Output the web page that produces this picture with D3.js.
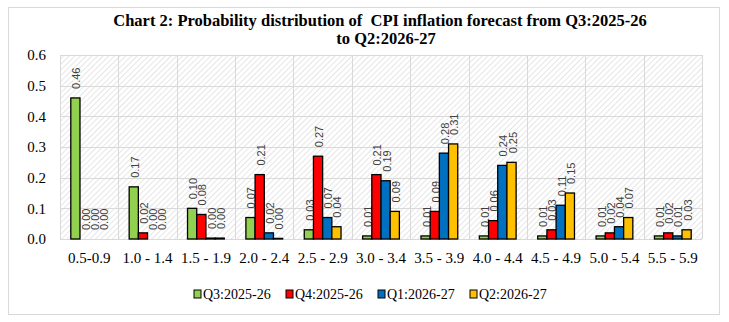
<!DOCTYPE html>
<html lang="en">
<head>
  <meta charset="UTF-8">
  <title>Chart 2</title>
  <script src="https://cdn.jsdelivr.net/npm/d3@7"></script>
  <style>
    body { margin: 0; background: #fff; }
    svg { display: block; }
  </style>
</head>
<body>
<div id="chart"></div>
<script type="text/javascript">
  // categories and series
  var categories = ["0.5-0.9", "1.0 - 1.4", "1.5 - 1.9", "2.0 - 2.4", "2.5 - 2.9", "3.0 - 3.4",
                    "3.5 - 3.9", "4.0 - 4.4", "4.5 - 4.9", "5.0 - 5.4", "5.5 - 5.9"];
  var seriesNames = ["Q3:2025-26", "Q4:2025-26", "Q1:2026-27", "Q2:2026-27"];
  var q3_2025 = [0.46, 0.17, 0.10, 0.07, 0.03, 0.01, 0.01, 0.01, 0.01, 0.01, 0.01];
  var q4_2025 = [0.00, 0.02, 0.08, 0.21, 0.27, 0.21, 0.09, 0.06, 0.03, 0.02, 0.02];
  var q1_2026 = [0.00, 0.00, 0.003, 0.02, 0.07, 0.19, 0.28, 0.24, 0.11, 0.04, 0.01];
  var q2_2026 = [0.00, 0.00, 0.003, 0.002, 0.04, 0.09, 0.31, 0.25, 0.15, 0.07, 0.03];
  var yTicks = [0, 0.1, 0.2, 0.3, 0.4, 0.5, 0.6];
  var colors = ["#92d050", "#ff0000", "#0070c0", "#ffc000"];

  var allSeries = [q3_2025, q4_2025, q1_2026, q2_2026];

  var W = 729, H = 322;
  // plot area (don't call these top/left, window.top is read only)
  var plotL = 60, plotR = 702, plotT = 55, plotB = 239;

  var svg = d3.select("#chart").append("svg")
    .attr("width", W)
    .attr("height", H);

  // hatched plot background
  var defs = svg.append("defs");
  var pat = defs.append("pattern")
    .attr("id", "hatch")
    .attr("patternUnits", "userSpaceOnUse")
    .attr("width", 4)
    .attr("height", 4)
    .attr("patternTransform", "rotate(45)");
  pat.append("rect").attr("width", 4).attr("height", 4).attr("fill", "#ffffff");
  pat.append("line")
    .attr("x1", 0).attr("y1", 0).attr("x2", 0).attr("y2", 4)
    .attr("stroke", "#dcdcdc").attr("stroke-width", 1.4);

  // outer border
  svg.append("rect")
    .attr("x", 8.5).attr("y", 7.5)
    .attr("width", 711).attr("height", 307)
    .attr("fill", "#fff")
    .attr("stroke", "#d9d9d9");

  // title
  var title = svg.append("text")
    .attr("text-anchor", "middle")
    .style("font-family", "'Liberation Serif', serif")
    .style("font-weight", "bold")
    .style("font-size", "16.5px")
    .style("white-space", "pre")
    .attr("fill", "#000");
  title.append("tspan").attr("x", 380).attr("y", 26)
    .text("Chart 2: Probability distribution of  CPI inflation forecast from Q3:2025-26");
  title.append("tspan").attr("x", 386).attr("y", 44).text("to Q2:2026-27");

  var x0 = d3.scaleBand().domain(categories).range([plotL, plotR]);
  var cw = x0.bandwidth();
  var x1 = d3.scaleBand().domain(seriesNames).range([10.8, cw - 10.8]);
  var y = d3.scaleLinear().domain([0, 0.6]).range([plotB, plotT]);

  svg.append("rect")
    .attr("x", plotL).attr("y", plotT)
    .attr("width", plotR - plotL).attr("height", plotB - plotT)
    .attr("fill", "url(#hatch)");

  // gridlines
  var grid = svg.append("g").attr("stroke", "#d9d9d9").attr("stroke-width", 1);
  grid.selectAll(".h").data(yTicks).enter().append("line")
    .attr("x1", plotL).attr("x2", plotR)
    .attr("y1", function(d) { return Math.round(y(d)) + 0.5; })
    .attr("y2", function(d) { return Math.round(y(d)) + 0.5; });
  grid.selectAll(".v").data(categories.concat(["end"])).enter().append("line")
    .attr("y1", plotT).attr("y2", plotB)
    .attr("x1", function(d, i) { return Math.round(plotL + i * cw) + 0.5; })
    .attr("x2", function(d, i) { return Math.round(plotL + i * cw) + 0.5; });

  // y axis labels
  var yAxis = d3.axisLeft(y).tickValues(yTicks).tickFormat(d3.format(".1f")).tickSize(0).tickPadding(14);
  var gy = svg.append("g").attr("transform", "translate(" + plotL + ",0)").call(yAxis);
  gy.select(".domain").remove();
  gy.selectAll("text")
    .style("font-family", "'Liberation Serif', serif")
    .style("font-size", "15px")
    .attr("fill", "#000");

  // x axis labels
  var xAxis = d3.axisBottom(x0).tickSize(0).tickPadding(13);
  var gx = svg.append("g").attr("transform", "translate(0," + plotB + ")").call(xAxis);
  gx.select(".domain").remove();
  gx.selectAll("text")
    .style("font-family", "'Liberation Serif', serif")
    .style("font-size", "15px")
    .attr("fill", "#000");

  // bars
  var groups = svg.selectAll(".series").data(allSeries).enter().append("g")
    .attr("class", "series");
  groups.each(function(vals, si) {
    var g = d3.select(this);
    g.selectAll("rect").data(vals).enter().append("rect")
      .attr("x", function(d, i) { return x0(categories[i]) + x1(seriesNames[si]); })
      .attr("y", function(d) { return y(d); })
      .attr("width", x1.bandwidth())
      .attr("height", function(d) { return plotB - y(d); })
      .attr("fill", colors[si])
      .attr("stroke", "#000")
      .attr("stroke-width", 1.3)
      .style("display", function(d) { return d > 0 ? null : "none"; });
  });

  // data labels
  groups.each(function(vals, si) {
    var g = d3.select(this);
    g.selectAll("text").data(vals).enter().append("text")
      .attr("transform", function(d, i) {
        var cx = x0(categories[i]) + x1(seriesNames[si]) + x1.bandwidth() / 2 + 5;
        return "translate(" + cx + "," + (y(d) - 9) + ") rotate(-90)";
      })
      .attr("text-anchor", "start")
      .style("font-family", "'Liberation Sans', sans-serif")
      .style("font-size", "11px")
      .attr("fill", "#404040")
      .text(function(d) { return d.toFixed(2); });
  });

  // legend
  var legend = svg.append("g").attr("transform", "translate(194,294)");
  var items = legend.selectAll("g").data(seriesNames).enter().append("g")
    .attr("transform", function(d, i) { return "translate(" + (i * 92) + ",0)"; });
  items.append("rect")
    .attr("x", 0).attr("y", -4)
    .attr("width", 7).attr("height", 8)
    .attr("fill", function(d, i) { return colors[i]; })
    .attr("stroke", "#000");
  items.append("text")
    .attr("x", 9).attr("y", 5)
    .style("font-family", "'Liberation Serif', serif")
    .style("font-size", "14px")
    .attr("fill", "#000")
    .text(function(d) { return d; });
</script>
</body>
</html>
